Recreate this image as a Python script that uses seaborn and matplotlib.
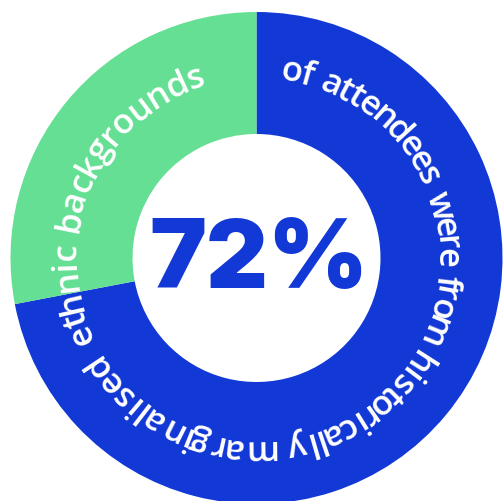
import numpy as np
import matplotlib
matplotlib.use("Agg")
import matplotlib.pyplot as plt
import seaborn as sns
from matplotlib.font_manager import FontProperties, findfont, get_font

# ---- data ----
categories = ["Historically marginalised ethnic backgrounds", "Other"]
shares = [72, 28]
center_label = "72%"
ring_words = ["of", "attendees", "were", "from", "historically",
              "marginalised", "ethnic", "backgrounds"]
colors = ["#1238D6", "#64DF94"]

# layout of the curved caption: start/end angle (deg, counter-clockwise from +x) of each word
word_start = [82.2, 69.6, 19.8, -5.1, -29.6, -84.3, -153.5, -188.0]
word_end = [73.0, 23.8, -2.3, -26.6, -80.4, -149.5, -184.8, -254.0]

sns.set_theme(style="white")
plt.rcParams["font.family"] = ["Open Sans", "DejaVu Sans"]

W, H = 503, 502
DPI = 100
fig = plt.figure(figsize=(W / DPI, H / DPI), dpi=DPI)
ax = fig.add_axes([0, 0, 1, 1])

cx, cy = 256.5, H - 259.0
r_out, r_in = 246.0, 124.0

ax.pie(shares, colors=colors, startangle=90, counterclock=False,
       radius=r_out, center=(cx, cy),
       wedgeprops=dict(width=r_out - r_in, linewidth=0))

ax.set_xlim(0, W)
ax.set_ylim(0, H)
ax.set_aspect("auto")
ax.axis("off")

# center label
ax.text(cx + 2, cy - 4, center_label, ha="center", va="center",
        fontsize=69, fontweight="black", color=colors[0],
        family=["Inter", "Lato", "DejaVu Sans"])

# curved ring text
fsize = 25.0
prop = FontProperties(family=["Open Sans", "DejaVu Sans"], size=fsize, weight="semibold")
font = get_font(findfont(prop))
font.set_size(fsize, DPI)

r_base = 181.0
for word, a0, a1 in zip(ring_words, word_start, word_end):
    adv = [font.load_char(ord(c)).linearHoriAdvance / 65536.0 for c in word]
    total = sum(adv)
    cum = 0.0
    for c, a in zip(word, adv):
        frac = (cum + a / 2) / total
        cum += a
        th = np.deg2rad(a0 + (a1 - a0) * frac)
        x = cx + r_base * np.cos(th)
        y = cy + r_base * np.sin(th)
        ax.text(x, y, c, ha="center", va="baseline", rotation=np.rad2deg(th) - 90,
                rotation_mode="anchor", color="white", fontproperties=prop)

fig.savefig("out.png", dpi=DPI, facecolor="white")
